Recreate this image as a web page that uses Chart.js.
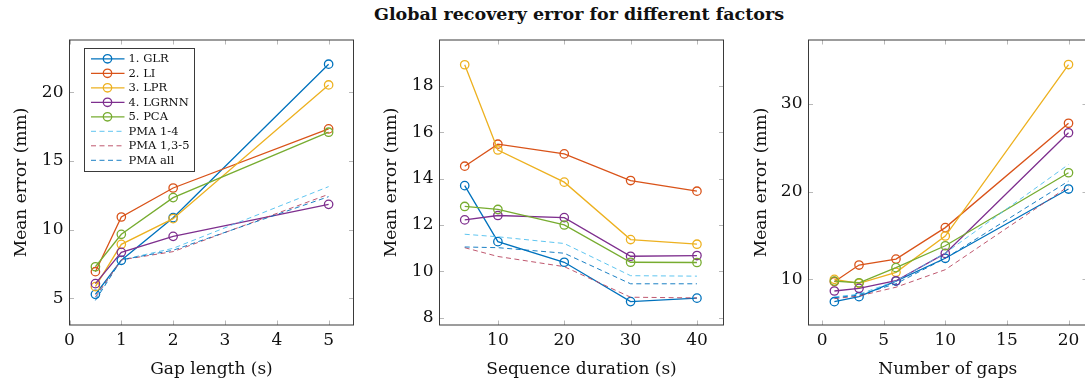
<!DOCTYPE html>
<html>
<head>
<meta charset="utf-8">
<script src="https://cdn.jsdelivr.net/npm/chart.js@4/dist/chart.umd.min.js"></script>
<style>
  html, body { margin: 0; padding: 0; background: #fff; overflow: hidden; width: 1085px; height: 383px; }
  #title { position: absolute; left: 0; top: 4px; width: 1158px; line-height: 22px; text-align: center;
           font: bold 17.5px 'DejaVu Serif', serif; color: #111; }
  canvas { position: absolute; top: 0; }
</style>
</head>
<body>
<div id="title">Global recovery error for different factors</div>
<canvas id="gapChart" width="360" height="383" style="left:0px"></canvas>
<canvas id="durationChart" width="360" height="383" style="left:370px"></canvas>
<canvas id="countChart" width="350" height="383" style="left:740px"></canvas>
<script>
// Method names shown in the legend
const methodLabels = ['1. GLR', '2. LI', '3. LPR', '4. LGRNN', '5. PCA', 'PMA 1-4', 'PMA 1,3-5', 'PMA all'];

// Panel 1: error vs gap length (s)
const gapLength = [0.5, 1, 2, 5];
const gapGLR    = [5.29, 7.77, 10.87, 22.04];
const gapLI     = [6.94, 10.92, 13.03, 17.33];
const gapLPR    = [5.85, 8.93, 10.80, 20.53];
const gapLGRNN  = [6.07, 8.35, 9.51, 11.84];
const gapPCA    = [7.30, 9.66, 12.33, 17.09];
const gapPMA14  = [5.00, 7.80, 8.64, 13.13];
const gapPMA135 = [5.10, 7.80, 8.40, 12.57];
const gapPMAall = [4.85, 7.80, 8.50, 12.40];
const gapTicksX = [0, 1, 2, 3, 4, 5];
const gapTicksY = [5, 10, 15, 20];

// Panel 2: error vs sequence duration (s)
const duration  = [5, 10, 20, 30, 40];
const durGLR    = [13.70, 11.28, 10.39, 8.69, 8.84];
const durLI     = [14.54, 15.49, 15.07, 13.92, 13.46];
const durLPR    = [18.92, 15.24, 13.85, 11.37, 11.17];
const durLGRNN  = [12.22, 12.41, 12.32, 10.65, 10.68];
const durPCA    = [12.80, 12.67, 12.00, 10.39, 10.38];
const durPMA14  = [11.60, 11.49, 11.20, 9.81, 9.79];
const durPMA135 = [11.02, 10.64, 10.20, 8.88, 8.85];
const durPMAall = [11.05, 11.02, 10.78, 9.46, 9.46];
const durTicksX = [10, 20, 30, 40];
const durTicksY = [8, 10, 12, 14, 16, 18];

// Panel 3: error vs number of gaps
const gapCount  = [1, 3, 6, 10, 20];
const cntGLR    = [7.45, 8.02, 9.80, 12.40, 20.30];
const cntLI     = [9.73, 11.63, 12.31, 15.90, 27.80];
const cntLPR    = [10.00, 9.54, 10.80, 14.94, 34.50];
const cntLGRNN  = [8.67, 8.97, 9.84, 12.96, 26.72];
const cntPCA    = [9.80, 9.61, 11.33, 13.83, 22.16];
const cntPMA14  = [8.00, 8.30, 9.80, 13.00, 23.10];
const cntPMA135 = [7.80, 8.10, 9.10, 11.10, 20.60];
const cntPMAall = [7.90, 8.20, 9.50, 12.40, 21.20];
const cntTicksX = [0, 5, 10, 15, 20];
const cntTicksY = [10, 20, 30];

const seriesColors = ['#0072BD', '#D95319', '#EDB120', '#7E2F8E', '#77AC30', '#4DBEEE', '#B8455F', '#0072BD'];
const SERIF = "'DejaVu Serif', serif";

Chart.defaults.font.family = SERIF;
Chart.defaults.font.size = 17;
Chart.defaults.color = '#111';

// Box frame plus inward tick marks on all four sides
const frameTicks = {
  id: 'frameTicks',
  beforeDatasetsDraw(chart) {
    const {ctx, chartArea: a, scales: {x, y}} = chart;
    ctx.save();
    ctx.strokeStyle = '#b8b8b8';
    ctx.lineWidth = 1;
    ctx.beginPath();
    x.ticks.forEach(t => {
      const px = Math.round(x.getPixelForValue(t.value)) + 0.5;
      ctx.moveTo(px, a.bottom); ctx.lineTo(px, a.bottom - 4.5);
      ctx.moveTo(px, a.top); ctx.lineTo(px, a.top + 4.5);
    });
    y.ticks.forEach(t => {
      const py = Math.round(y.getPixelForValue(t.value)) + 0.5;
      ctx.moveTo(a.left, py); ctx.lineTo(a.left + 4.5, py);
      ctx.moveTo(a.right, py); ctx.lineTo(a.right - 4.5, py);
    });
    ctx.stroke();
    ctx.restore();
  },
  afterDatasetsDraw(chart) {
    const {ctx, chartArea: a} = chart;
    ctx.save();
    ctx.strokeStyle = '#3a3a3a';
    ctx.lineWidth = 1;
    ctx.strokeRect(a.left, a.top, a.right - a.left, a.bottom - a.top);
    ctx.restore();
  }
};

// Framed legend in the upper-left corner of the plot area
const boxLegend = {
  id: 'boxLegend',
  afterDraw(chart, args, opts) {
    if (!opts.show) return;
    const {ctx, chartArea: a} = chart;
    const left = Math.round(a.left + 14.5) + 0.5, top = Math.round(a.top + 8) + 0.5;
    const w = 110, h = 123, row = 14.5, first = 10.3;
    ctx.save();
    ctx.fillStyle = '#fff';
    ctx.fillRect(left, top, w, h);
    ctx.strokeStyle = '#3a3a3a';
    ctx.lineWidth = 1;
    ctx.strokeRect(left, top, w, h);
    chart.data.datasets.forEach((ds, i) => {
      const cy = top + first + i * row;
      ctx.strokeStyle = ds.borderColor;
      ctx.lineWidth = ds.borderWidth;
      ctx.setLineDash(ds.borderDash || []);
      ctx.beginPath();
      ctx.moveTo(left + 6.5, cy); ctx.lineTo(left + 40, cy);
      ctx.stroke();
      ctx.setLineDash([]);
      if (ds.pointRadius > 0) {
        ctx.lineWidth = ds.pointBorderWidth;
        ctx.beginPath();
        ctx.arc(left + 23, cy, ds.pointRadius, 0, Math.PI * 2);
        ctx.stroke();
      }
      ctx.fillStyle = '#111';
      ctx.font = '11.5px ' + SERIF;
      ctx.textBaseline = 'middle';
      ctx.fillText(ds.label, left + 44, cy + 0.5);
    });
    ctx.restore();
  }
};

function buildDatasets(xs, seriesList) {
  return seriesList.map((ys, i) => {
    const dashed = i >= 5;
    return {
      label: methodLabels[i],
      data: xs.map((x, j) => ({x, y: ys[j]})),
      borderColor: seriesColors[i],
      backgroundColor: 'transparent',
      borderWidth: dashed ? 0.9 : 1.3,
      borderDash: dashed ? [5, 3.5] : [],
      pointRadius: dashed ? 0 : 4.2,
      pointBorderWidth: 1.3,
      pointBorderColor: seriesColors[i],
      pointBackgroundColor: 'transparent',
      pointStyle: 'circle',
      tension: 0,
      order: seriesList.length - i
    };
  });
}

function makePanel(id, p) {
  return new Chart(document.getElementById(id), {
    type: 'line',
    data: {datasets: buildDatasets(p.xs, p.series)},
    plugins: [frameTicks, boxLegend],
    options: {
      responsive: false,
      animation: false,
      devicePixelRatio: 1,
      layout: {autoPadding: false, padding: {left: 0, top: 40, right: p.padRight, bottom: 0}},
      plugins: {legend: {display: false}, tooltip: {enabled: false}, boxLegend: {show: p.legend}},
      scales: {
        x: {
          type: 'linear', min: p.xMin, max: p.xMax,
          afterBuildTicks: s => { s.ticks = p.xTicks.map(v => ({value: v})); },
          afterFit: s => { s.height = 58; },
          grid: {display: false, drawTicks: false},
          border: {display: false},
          ticks: {padding: 5, color: '#111'},
          title: {display: true, text: p.xTitle, color: '#111', padding: {top: 0, bottom: 3.5}}
        },
        y: {
          type: 'linear', min: p.yMin, max: p.yMax,
          afterBuildTicks: s => { s.ticks = p.yTicks.map(v => ({value: v})); },
          afterFit: s => { s.width = p.yWidth; },
          grid: {display: false, drawTicks: false},
          border: {display: false},
          ticks: {padding: 6, color: '#111'},
          title: {display: true, text: 'Mean error (mm)', color: '#111', padding: {top: 11, bottom: 0}}
        }
      }
    }
  });
}

makePanel('gapChart', {
  xs: gapLength,
  series: [gapGLR, gapLI, gapLPR, gapLGRNN, gapPCA, gapPMA14, gapPMA135, gapPMAall],
  xTicks: gapTicksX, yTicks: gapTicksY,
  xMin: 0, xMax: 5.48, yMin: 3.06, yMax: 23.8,
  xTitle: 'Gap length (s)', yWidth: 69.5, padRight: 6.5, legend: true
});

makePanel('durationChart', {
  xs: duration,
  series: [durGLR, durLI, durLPR, durLGRNN, durPCA, durPMA14, durPMA135, durPMAall],
  xTicks: durTicksX, yTicks: durTicksY,
  xMin: 1.2, xMax: 44.0, yMin: 7.68, yMax: 19.99,
  xTitle: 'Sequence duration (s)', yWidth: 69.5, padRight: 6.5, legend: false
});

makePanel('countChart', {
  xs: gapCount,
  series: [cntGLR, cntLI, cntLPR, cntLGRNN, cntPCA, cntPMA14, cntPMA135, cntPMAall],
  xTicks: cntTicksX, yTicks: cntTicksY,
  xMin: -1.1, xMax: 21.5, yMin: 4.79, yMax: 37.3,
  xTitle: 'Number of gaps', yWidth: 68.5, padRight: 3, legend: false
});
</script>
</body>
</html>
